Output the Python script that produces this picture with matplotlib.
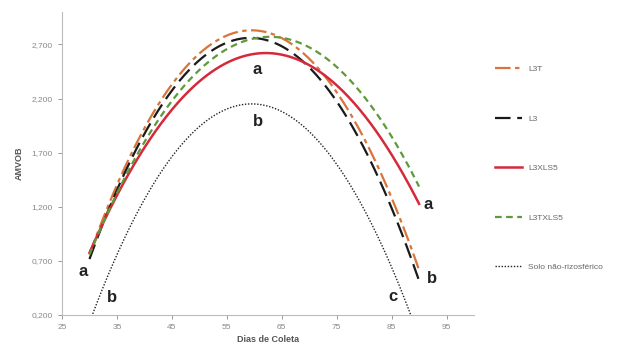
import numpy as np
import matplotlib
matplotlib.use("Agg")
import matplotlib.pyplot as plt

plt.rcParams['font.family'] = ['Liberation Sans', 'DejaVu Sans']

# quadratic trendlines: peak value, peak day, curvature
series = ["L3T", "L3", "L3XLS5", "L3TXLS5", "Solo não-rizosférico"]
peak_val = [2.83, 2.76, 2.62, 2.77, 2.15]
peak_day = [59.5, 59.3, 62.1, 62.8, 59.5]
curv = [0.00238, 0.00238, 0.00179, 0.00187, 0.00232]
day_start = [30, 30, 30, 30, 30]
day_end = [90, 90, 90, 90, 90]

colors = ["#d9743a", "#1a1a1a", "#d42a3c", "#5f9a3a", "#222222"]
styles = [(0, (7, 2, 2, 2)), (0, (7, 3)), "-", (0, (3, 2)), (0, (1, 1.2))]
widths = [1.6, 1.6, 1.8, 1.6, 1.0]

# significance letters
letters = ["a", "b", "a", "b", "c", "a", "b"]
letter_x = [28.8, 34.1, 60.6, 60.6, 85.2, 91.7, 92.3]
letter_y = [0.60, 0.36, 2.47, 1.99, 0.37, 1.22, 0.54]

yticks = [0.2, 0.7, 1.2, 1.7, 2.2, 2.7]
xticks = [25, 35, 45, 55, 65, 75, 85, 95]

fig = plt.figure(figsize=(6.29, 3.5), dpi=100)
ax = fig.add_axes([0.0986, 0.1, 0.655, 0.866])

for i, name in enumerate(series):
    d = np.linspace(day_start[i], day_end[i], 300)
    v = peak_val[i] - curv[i] * (d - peak_day[i]) ** 2
    ax.plot(d, v, color=colors[i], linestyle=styles[i], linewidth=widths[i], label=name)

for t, x, y in zip(letters, letter_x, letter_y):
    ax.text(x, y, t, fontsize=12, fontweight="bold", color="#222222", ha="center", va="center")

ax.set_xlim(25, 100)
ax.set_ylim(0.2, 3.0)
ax.set_xticks(xticks)
ax.set_yticks(yticks)
ax.set_yticklabels([f"{v:.3f}".replace(".", ",") for v in yticks])
ax.tick_params(labelsize=6, colors="#888888", length=3, width=0.6)
ax.set_xlabel("Dias de Coleta", fontsize=6.5, color="#555555", fontweight="bold", labelpad=3)
ax.set_ylabel("AMVOB", fontsize=6.5, color="#555555", fontweight="bold", labelpad=6)
for s in ["top", "right"]:
    ax.spines[s].set_visible(False)
for s in ["left", "bottom"]:
    ax.spines[s].set_color("#bbbbbb")
    ax.spines[s].set_linewidth(0.8)

ax.legend(loc="upper left", bbox_to_anchor=(0.775, 0.835), bbox_transform=fig.transFigure,
          frameon=False, fontsize=6, labelspacing=5.0, handlelength=3.2,
          labelcolor="#666666")

fig.savefig("out.png", dpi=100)
